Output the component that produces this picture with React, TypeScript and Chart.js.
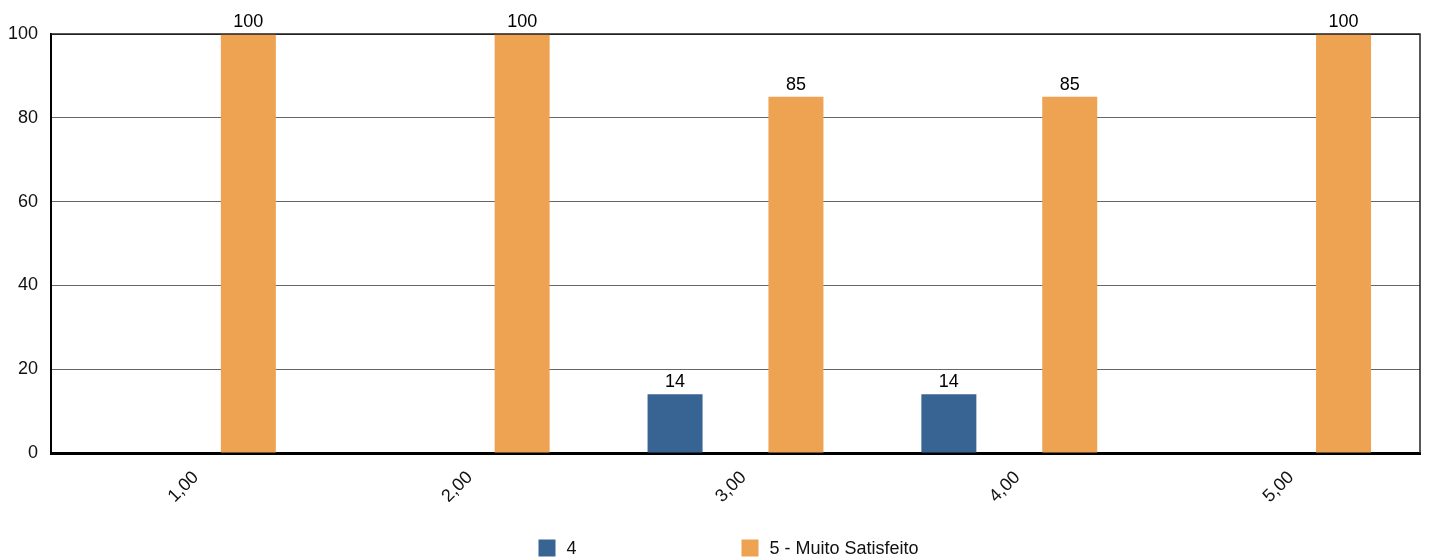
import React, { useEffect, useRef } from "react";
import { Chart, registerables } from "chart.js";

Chart.register(...registerables);

const categories = ["1,00", "2,00", "3,00", "4,00", "5,00"];
const seriesNames = ["4", "5 - Muito Satisfeito"];
const series4 = [0, 0, 14, 14, 0];
const series5 = [100, 100, 85, 85, 100];
const seriesColors = ["#386494", "#EEA353"];
const yTicks = [0, 20, 40, 60, 80, 100];

const FONT = "'Liberation Sans', Arial, sans-serif";
const FS = 18;

export default function App() {
  const ref = useRef<HTMLCanvasElement | null>(null);

  useEffect(() => {
    if (!ref.current) return;
    const extras = {
      id: "extras",
      afterDatasetsDraw(chart: any) {
        const ctx = chart.ctx;
        const area = chart.chartArea;
        ctx.save();
        // box top + right
        ctx.strokeStyle = "#222";
        ctx.lineWidth = 1.5;
        ctx.beginPath();
        ctx.moveTo(area.left, area.top);
        ctx.lineTo(area.right, area.top);
        ctx.lineTo(area.right, area.bottom);
        ctx.stroke();
        // data labels
        ctx.font = `${FS}px ${FONT}`;
        ctx.fillStyle = "#000";
        ctx.textAlign = "center";
        ctx.textBaseline = "bottom";
        chart.data.datasets.forEach((ds: any, di: number) => {
          const meta = chart.getDatasetMeta(di);
          meta.data.forEach((bar: any, i: number) => {
            const v = ds.data[i];
            if (!v) return;
            ctx.fillText(String(v), bar.x, bar.y - 3);
          });
        });
        // legend
        const legendY = chart.height - 12;
        const cx = (area.left + area.right) / 2;
        const starts = [cx - 197, cx + 6];
        chart.data.datasets.forEach((ds: any, di: number) => {
          const x = starts[di];
          ctx.fillStyle = ds.backgroundColor;
          ctx.fillRect(x, legendY - 8.5, 17, 17);
          ctx.fillStyle = "#111";
          ctx.textAlign = "left";
          ctx.textBaseline = "middle";
          ctx.fillText(ds.label, x + 28, legendY + 1);
        });
        ctx.restore();
      },
    };

    const chart = new Chart(ref.current, {
      type: "bar",
      data: {
        labels: categories,
        datasets: [
          { label: seriesNames[0], data: series4, backgroundColor: seriesColors[0] },
          { label: seriesNames[1], data: series5, backgroundColor: seriesColors[1] },
        ],
      },
      options: {
        animation: false,
        responsive: true,
        maintainAspectRatio: false,
        datasets: { bar: { categoryPercentage: 0.883, barPercentage: 0.455 } },
        layout: { padding: { top: 26, right: 1, left: 0, bottom: 0 } },
        plugins: { legend: { display: false }, tooltip: { enabled: false } },
        scales: {
          x: {
            grid: { display: false },
            border: { display: true, color: "#000", width: 3 },
            ticks: {
              minRotation: 45,
              maxRotation: 45,
              color: "#111",
              font: { family: FONT, size: FS },
              padding: 6,
              labelOffset: 8,
            },
            afterFit: (scale: any) => {
              scale.height = 107;
            },
          },
          y: {
            min: 0,
            max: 100,
            afterBuildTicks: (scale: any) => {
              scale.ticks = yTicks.map((v) => ({ value: v }));
            },
            afterFit: (scale: any) => {
              scale.width = 43;
            },
            grid: {
              drawTicks: false,
              color: (c: any) => (c.tick && c.tick.value === 100 ? "#222" : "#666"),
              lineWidth: 1,
            },
            border: { display: true, color: "#000", width: 2 },
            ticks: {
              color: "#111",
              font: { family: FONT, size: FS },
              padding: 13,
            },
          },
        },
      },
      plugins: [extras],
    });
    return () => chart.destroy();
  }, []);

  return (
    <div style={{ width: "100%", height: 552, position: "relative" }}>
      <canvas ref={ref} />
    </div>
  );
}
